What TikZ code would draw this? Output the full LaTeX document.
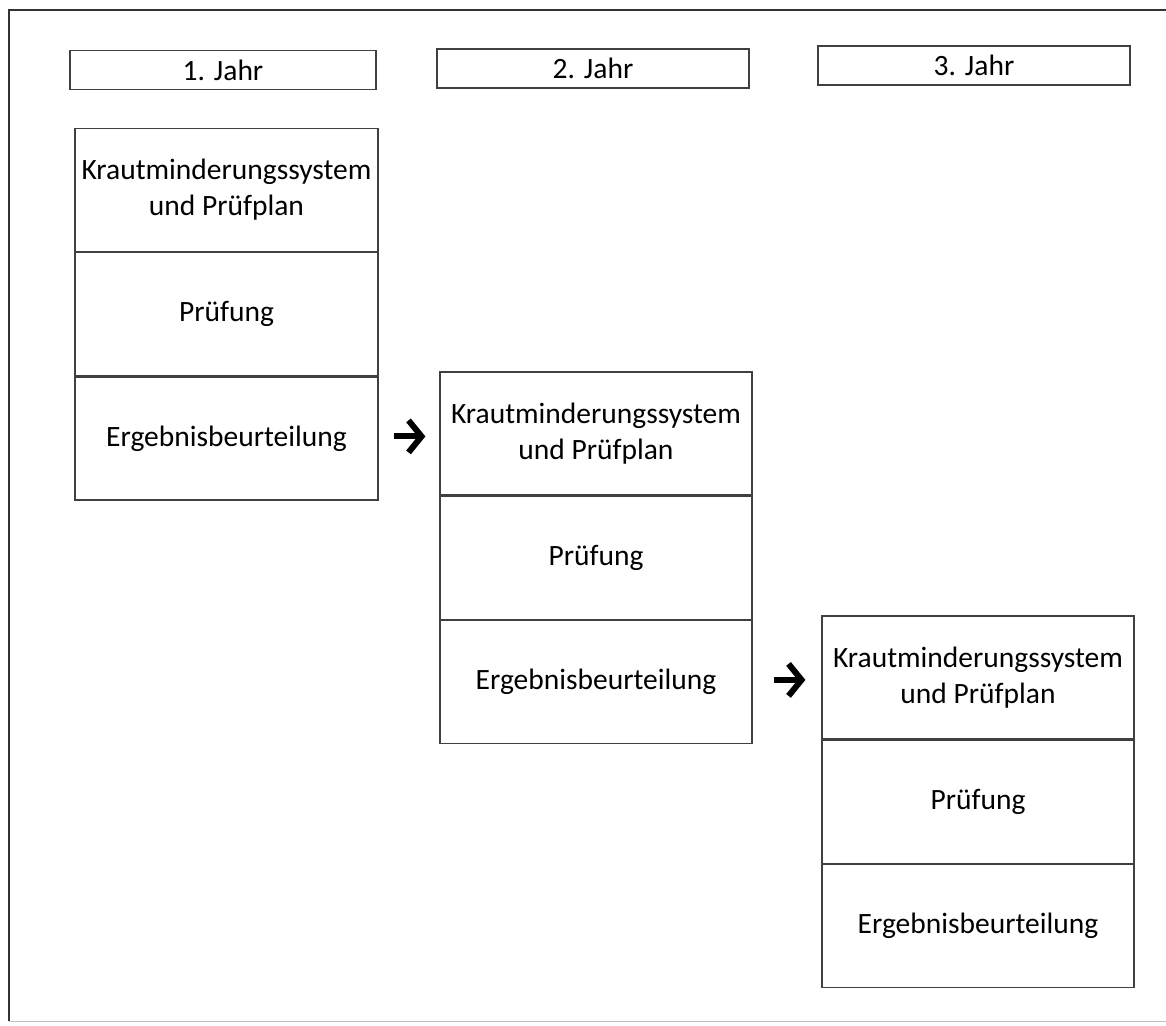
\documentclass[tikz,border=0pt]{standalone}
\usepackage{fontspec}
\setmainfont{Carlito}
\usetikzlibrary{positioning,arrows.meta}
\tikzset{
  kopf/.style={draw=black!75, line width=1.2pt, minimum width=#1, minimum height=39pt, inner sep=0pt},
  zelle/.style={draw=black!75, line width=1.2pt, minimum width=#1, minimum height=123pt, inner sep=0pt, align=center},
  pfeil/.style={line width=6pt, -{Straight Barb[length=13pt,width=32pt]}}
}

\begin{document}
\begin{tikzpicture}[x=1pt,y=-1pt,font=\fontsize{29.5}{36}\selectfont]
\useasboundingbox (0,0) rectangle (1166,1025);
% Rahmen
\draw[black!80, line width=2.2pt] (9,1021) -- (9,10) -- (1166,10);
\draw[black!25, line width=1pt] (9,1021) -- (1166,1021);
% Jahre
\node[kopf=306pt] (j1) at (223,70) {1. Jahr};
\node[kopf=312pt] (j2) at (593,68.5) {2. Jahr};
\node[kopf=312pt] (j3) at (974,65.5) {3. Jahr};
% 1. Jahr
\node[zelle=303pt] (k1) at (226.5,190) {Krautminderungssystem\\und Prüfplan};
\node[zelle=303pt, below=0pt of k1] (p1) {Prüfung};
\node[zelle=303pt, below=0pt of p1] (e1) {Ergebnisbeurteilung};
% 2. Jahr
\node[zelle=312pt] (k2) at (596,433.5) {Krautminderungssystem\\und Prüfplan};
\node[zelle=312pt, below=0pt of k2] (p2) {Prüfung};
\node[zelle=312pt, below=0pt of p2] (e2) {Ergebnisbeurteilung};
% 3. Jahr
\node[zelle=312pt] (k3) at (978,677.5) {Krautminderungssystem\\und Prüfplan};
\node[zelle=312pt, below=0pt of k3] (p3) {Prüfung};
\node[zelle=312pt, below=0pt of p3] (e3) {Ergebnisbeurteilung};
% Pfeile
\draw[pfeil] ([xshift=15pt,yshift=2pt]e1.east) -- ([xshift=-14pt,yshift=2pt]e1.east -| k2.west);
\draw[pfeil] ([xshift=21pt,yshift=2pt]e2.east) -- ([xshift=-16pt,yshift=2pt]e2.east -| k3.west);
\end{tikzpicture}
\end{document}
